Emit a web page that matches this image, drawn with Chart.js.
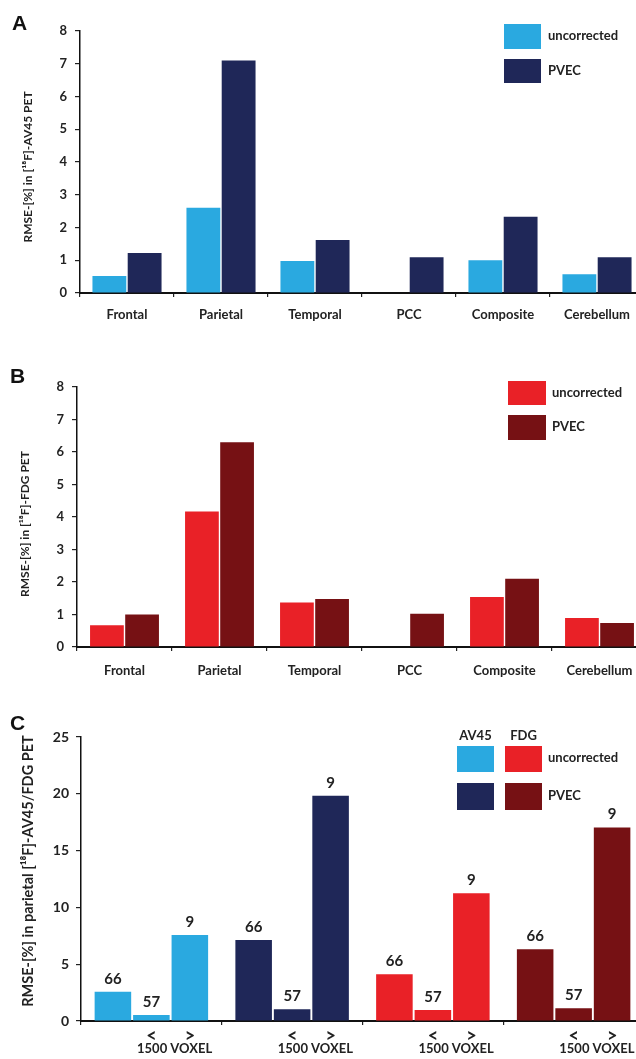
<!DOCTYPE html>
<html><head><meta charset="utf-8">
<script src="https://cdn.jsdelivr.net/npm/chart.js@4/dist/chart.umd.min.js"></script>
<style>
html,body{margin:0;padding:0;background:#fff;overflow:hidden;width:636px;height:1059px;position:relative;}
.panel{position:absolute;left:0;}
.letter{position:absolute;font:bold 21px "Liberation Sans",Arial,sans-serif;color:#111;}
.leg{position:absolute;font:bold 13px Lato,sans-serif;color:#222;line-height:13px;white-space:nowrap;}
.box{position:absolute;}
</style></head><body>
<div class="panel" style="top:0;width:644px;height:330px"><canvas id="cA"></canvas></div>
<div class="panel" style="top:330px;width:647px;height:370px"><canvas id="cB"></canvas></div>
<div class="panel" style="top:700px;width:644px;height:359px"><canvas id="cC"></canvas></div>
<div class="letter" style="left:12px;top:11px">A</div>
<div class="letter" style="left:10px;top:364px">B</div>
<div class="letter" style="left:10px;top:711px">C</div>
<div id="legends"></div>
<script>
// ---------- data ----------
const regions = ['Frontal', 'Parietal', 'Temporal', 'PCC', 'Composite', 'Cerebellum'];
const av45Uncorrected = [0.52, 2.6, 0.98, null, 1.0, 0.57];
const av45Pvec = [1.22, 7.1, 1.62, 1.09, 2.33, 1.09];
const fdgUncorrected = [0.67, 4.17, 1.37, null, 1.54, 0.89];
const fdgPvec = [1.0, 6.3, 1.48, 1.02, 2.1, 0.74];

const groupsC = ['AV45 uncorrected', 'AV45 PVEC', 'FDG uncorrected', 'FDG PVEC'];
const allRegions = [2.58, 7.14, 4.11, 6.31];
const below1500 = [0.53, 1.03, 0.97, 1.12];
const above1500 = [7.58, 19.82, 11.25, 17.03];
const subsetCounts = [66, 57, 9];
const subsetMarks = ['', '<', '>'];
const voxelLabel = '1500 VOXEL';

const seriesNames = ['uncorrected', 'PVEC'];
const tracerNames = ['AV45', 'FDG'];
const titleA = 'RMSE-[%] in [¹⁸F]-AV45 PET';
const titleB = 'RMSE-[%] in [¹⁸F]-FDG PET';
const titleC = 'RMSE-[%] in parietal [¹⁸F]-AV45/FDG PET';

// ---------- styles ----------
const LIGHT_BLUE = '#2aa9e0';
const NAVY = '#1f2758';
const RED = '#e92127';
const DARK_RED = '#761114';
const TXT = '#222';
const FONT = 'Lato, sans-serif';
const groupColors = [LIGHT_BLUE, NAVY, RED, DARK_RED];

Chart.defaults.font.family = FONT;
Chart.defaults.color = TXT;
Chart.defaults.animation = false;

// y-axis title drawn rotated beside the axis
const yTitlePlugin = {
  id: 'yTitle',
  afterDraw(chart, args, opts) {
    const ctx = chart.ctx;
    const ca = chart.chartArea;
    ctx.save();
    ctx.translate(opts.x, (ca.top + ca.bottom) / 2 + opts.dy);
    ctx.rotate(-Math.PI / 2);
    ctx.font = 'bold ' + opts.size + 'px ' + FONT;
    ctx.fillStyle = TXT;
    ctx.textAlign = 'center';
    ctx.textBaseline = 'middle';
    ctx.fillText(opts.text, 0, 0);
    ctx.restore();
  }
};

function makeOptions(cfg) {
  return {
    responsive: true,
    maintainAspectRatio: false,
    animation: false,
    layout: { padding: { top: cfg.top, left: 0, right: 0, bottom: 0 } },
    plugins: {
      legend: { display: false }, tooltip: { enabled: false },
      yTitle: { text: cfg.title, size: cfg.tSize, x: cfg.tX, dy: cfg.tDy }
    },
    scales: {
      x: {
        offset: true,
        grid: { display: true, drawOnChartArea: false, drawTicks: true, tickLength: 4, offset: true, color: '#222', lineWidth: 1.2 },
        border: { display: true, color: '#111', width: 2 },
        ticks: { display: cfg.xTicks, padding: cfg.xPad, font: { size: cfg.xSize, weight: 'bold' }, color: TXT, maxRotation: 0, autoSkip: false },
        afterFit: (a) => { a.height = cfg.xHeight; }
      },
      y: {
        min: 0, max: cfg.max,
        ticks: { stepSize: cfg.step, padding: cfg.yPad, font: { size: cfg.ySize, weight: 'bold' }, color: TXT },
        grid: { display: true, drawOnChartArea: false, drawTicks: true, tickLength: 5, color: '#222', lineWidth: 1.2 },
        border: { display: true, color: '#111', width: 1.5 },
        afterFit: (a) => { a.width = cfg.left; }
      }
    }
  };
}

new Chart(document.getElementById('cA'), {
  type: 'bar',
  data: {
    labels: regions,
    datasets: [
      { label: seriesNames[0], data: av45Uncorrected, backgroundColor: LIGHT_BLUE, categoryPercentage: 0.75, barPercentage: 0.96 },
      { label: seriesNames[1], data: av45Pvec, backgroundColor: NAVY, categoryPercentage: 0.75, barPercentage: 0.96 }
    ]
  },
  options: makeOptions({ top: 31, xHeight: 37, xTicks: true, xPad: 10, xSize: 13, max: 8, step: 1, ySize: 13, yPad: 8, title: titleA, tSize: 12, tX: 28, tDy: 5, left: 80 }),
  plugins: [yTitlePlugin]
});

new Chart(document.getElementById('cB'), {
  type: 'bar',
  data: {
    labels: regions,
    datasets: [
      { label: seriesNames[0], data: fdgUncorrected, backgroundColor: RED, categoryPercentage: 0.74, barPercentage: 0.96 },
      { label: seriesNames[1], data: fdgPvec, backgroundColor: DARK_RED, categoryPercentage: 0.74, barPercentage: 0.96 }
    ]
  },
  options: makeOptions({ top: 57, xHeight: 53, xTicks: true, xPad: 12, xSize: 13, max: 8, step: 1, ySize: 13, yPad: 8, title: titleB, tSize: 12, tX: 25, tDy: 7, left: 77 }),
  plugins: [yTitlePlugin]
});

const subsetPlugin = {
  id: 'subsetLabels',
  afterDatasetsDraw(chart) {
    const ctx = chart.ctx;
    const bottom = chart.chartArea.bottom;
    ctx.save();
    ctx.fillStyle = TXT;
    ctx.textAlign = 'center';
    ctx.textBaseline = 'middle';
    chart.data.datasets.forEach((ds, i) => {
      const meta = chart.getDatasetMeta(i);
      meta.data.forEach((bar, j) => {
        ctx.font = 'bold 15px ' + FONT;
        ctx.fillText(String(subsetCounts[i]), bar.x, bar.y - 13);
        if (subsetMarks[i]) {
          ctx.font = 'bold 18px ' + FONT;
          ctx.fillText(subsetMarks[i], bar.x, bottom + 15);
        }
      });
    });
    const m1 = chart.getDatasetMeta(1), m2 = chart.getDatasetMeta(2);
    ctx.font = 'bold 13px ' + FONT;
    m1.data.forEach((bar, j) => {
      const cx = (bar.x + m2.data[j].x) / 2 + 4;
      ctx.fillText(voxelLabel, cx, bottom + 28);
    });
    ctx.restore();
  }
};

new Chart(document.getElementById('cC'), {
  type: 'bar',
  data: {
    labels: groupsC,
    datasets: [
      { label: 'all', data: allRegions, backgroundColor: groupColors, categoryPercentage: 0.82, barPercentage: 0.95 },
      { label: '< 1500 voxel', data: below1500, backgroundColor: groupColors, categoryPercentage: 0.82, barPercentage: 0.95 },
      { label: '> 1500 voxel', data: above1500, backgroundColor: groupColors, categoryPercentage: 0.82, barPercentage: 0.95 }
    ]
  },
  options: makeOptions({ top: 37, xHeight: 38, xTicks: false, xPad: 0, xSize: 13, max: 25, step: 5, ySize: 14, yPad: 7, title: titleC, tSize: 14.5, tX: 28, tDy: -8, left: 81 }),
  plugins: [subsetPlugin, yTitlePlugin]
});

// ---------- legends ----------
const L = document.getElementById('legends');
function box(x, y, w, h, c) { const d = document.createElement('div'); d.className = 'box'; d.style.cssText = `left:${x}px;top:${y}px;width:${w}px;height:${h}px;background:${c}`; L.appendChild(d); }
function txt(x, y, t) { const d = document.createElement('div'); d.className = 'leg'; d.style.left = x + 'px'; d.style.top = (y - 7) + 'px'; d.textContent = t; L.appendChild(d); }
// A
box(504, 24, 37, 25, LIGHT_BLUE); box(504, 59, 37, 24, NAVY);
txt(548, 36, seriesNames[0]); txt(548, 71, seriesNames[1]);
// B
box(508, 381, 38, 24, RED); box(508, 415, 38, 25, DARK_RED);
txt(552, 393, seriesNames[0]); txt(552, 427, seriesNames[1]);
// C
const h1 = document.createElement('div'); h1.className = 'leg'; h1.style.cssText = 'left:457px;top:729px;width:37px;text-align:center'; h1.textContent = tracerNames[0]; L.appendChild(h1);
const h2 = document.createElement('div'); h2.className = 'leg'; h2.style.cssText = 'left:505px;top:729px;width:37px;text-align:center'; h2.textContent = tracerNames[1]; L.appendChild(h2);
box(457, 746, 37, 26, LIGHT_BLUE); box(505, 746, 37, 26, RED);
box(457, 783, 37, 27, NAVY); box(505, 783, 37, 27, DARK_RED);
txt(548, 758, seriesNames[0]); txt(548, 796, seriesNames[1]);
</script>
</body></html>
